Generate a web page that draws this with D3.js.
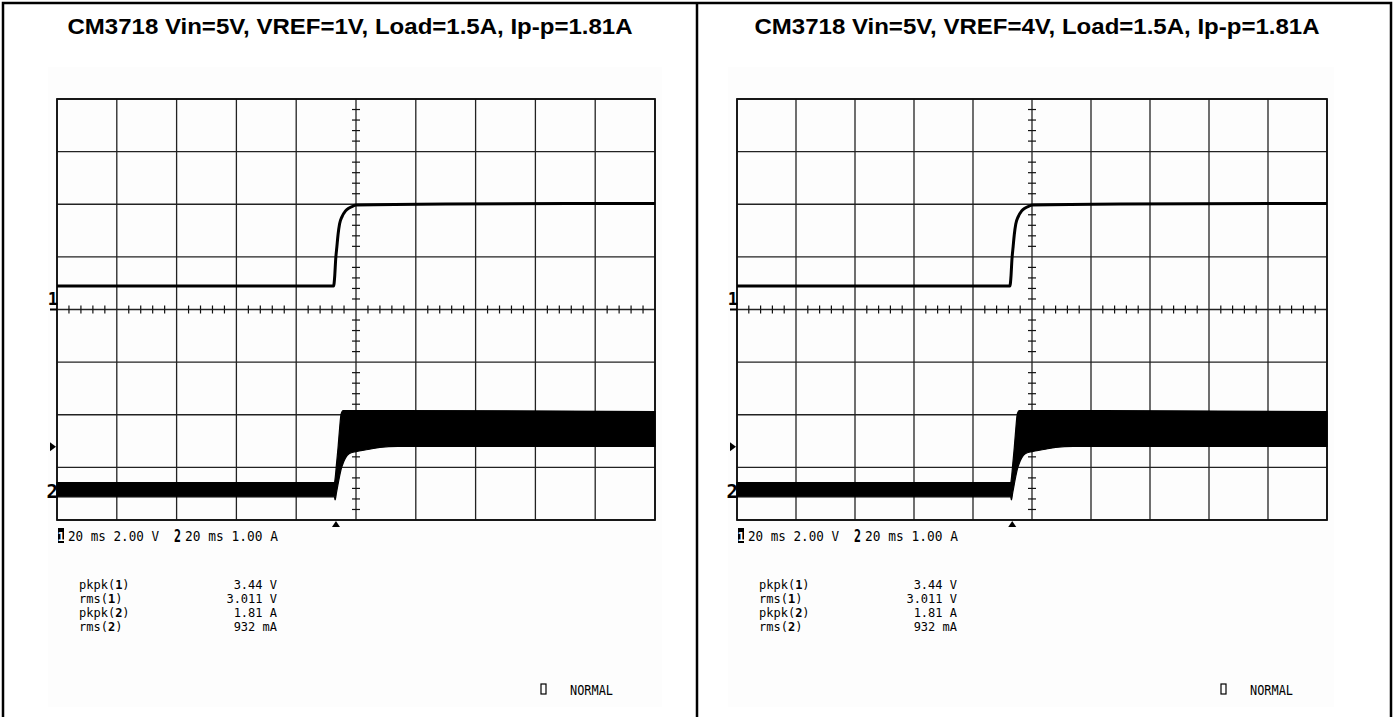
<!DOCTYPE html>
<html><head><meta charset="utf-8">
<script src="https://cdn.jsdelivr.net/npm/d3@7"></script>
<style>body{margin:0;background:#fff}svg{display:block}</style>
</head><body>
<svg id="c" width="1394" height="717"></svg>
<script>
// ---------- data ----------
const titles = ["CM3718 Vin=5V, VREF=1V, Load=1.5A, Ip-p=1.81A",
                "CM3718 Vin=5V, VREF=4V, Load=1.5A, Ip-p=1.81A"];
// time axis: 20 ms/div, 10 divisions
const timeDomain = [-100, 100];
const divDomain = [-4, 4];
const xTickValues = [-100, -80, -60, -40, -20, 0, 20, 40, 60, 80, 100];
const yTickValues = [-4, -3, -2, -1, 0, 1, 2, 3, 4];
// channel 1 (2.00 V/div), ground at centre
const ch1Time  = [-100, -7.5, -7.1, -6.8, -6.4, -6.0, -5.5, -4.7, -3.5, -2.3, -1, 0, 30, 100];
const ch1Volts = [0.89, 0.89, 1.3, 1.9, 2.38, 2.85, 3.25, 3.52, 3.75, 3.86, 3.93, 3.97, 4.01, 4.03];
// channel 2 (1.00 A/div) envelope of the noisy trace
const ch2Time   = [-100, -7.2, -7.0, -6.5, -6.0, -5.5, -5.0, -4.3, -3.5, -2.3, 0, 4, 8, 14, 100];
const ch2Top    = [0.13, 0.13, 0.20, 0.50, 0.80, 1.15, 1.43, 1.50, 1.50, 1.50, 1.50, 1.50, 1.50, 1.50, 1.48];
const ch2Bottom = [-0.14, -0.14, -0.20, -0.05, 0.10, 0.25, 0.38, 0.50, 0.60, 0.68, 0.72, 0.76, 0.80, 0.82, 0.82];
const ch1VoltsPerDiv = 2, ch2AmpsPerDiv = 1;
const ch1GroundDiv = 0, ch2GroundDiv = -3.42;
const scaleLabels = ["20 ms 2.00 V", "20 ms 1.00 A"];
const measureNames = ["pkpk", "rms", "pkpk", "rms"];
const measureChannels = ["1", "1", "2", "2"];
const measureValues = ["3.44 V", "3.011 V", "1.81 A", "932 mA"];
const triggerTime = -6.7;
const modeLabel = "NORMAL";

// ---------- layout ----------
const panels = [
  {px0: 3,   px1: 697,  gx0: 57,  gx1: 655,  titleX: 350},
  {px0: 697, px1: 1391, gx0: 737, gx1: 1327, titleX: 1037}
];
const gy0 = 99, gy1 = 520;
const monoFont = "'DejaVu Sans Mono', monospace";

const svg = d3.select("#c");
svg.append("rect").attr("width", 1394).attr("height", 717).attr("fill", "#fff");

panels.forEach((p, i) => {
  const g = svg.append("g");
  const x = d3.scaleLinear().domain(timeDomain).range([p.gx0, p.gx1]);
  const yd = d3.scaleLinear().domain(divDomain).range([gy1, gy0]);
  const y1 = v => yd(ch1GroundDiv + v / ch1VoltsPerDiv);
  const y2 = a => yd(ch2GroundDiv + a / ch2AmpsPerDiv);
  const xc = x(0), yc = yd(0);

  // faint background
  g.append("rect").attr("x", p.gx0 - 9).attr("y", 67).attr("width", p.gx1 - p.gx0 + 16).attr("height", 640)
    .attr("fill", "#fdfdfd");

  // title
  g.append("text").attr("x", p.titleX).attr("y", 34).attr("text-anchor", "middle")
    .attr("font-family", "'Liberation Sans', Arial, sans-serif").attr("font-weight", "bold")
    .attr("font-size", 22).attr("textLength", 565).attr("lengthAdjust", "spacingAndGlyphs")
    .attr("fill", "#000").text(titles[i]);

  // grid
  g.selectAll(".vl").data(xTickValues).enter().append("line")
    .attr("x1", d => x(d)).attr("x2", d => x(d)).attr("y1", gy0).attr("y2", gy1)
    .attr("stroke", "#222").attr("stroke-width", 1.3);
  g.selectAll(".hl").data(yTickValues).enter().append("line")
    .attr("y1", d => yd(d)).attr("y2", d => yd(d)).attr("x1", p.gx0).attr("x2", p.gx1)
    .attr("stroke", "#222").attr("stroke-width", 1.3);
  // frame
  g.append("rect").attr("x", p.gx0).attr("y", gy0).attr("width", p.gx1 - p.gx0).attr("height", gy1 - gy0)
    .attr("fill", "none").attr("stroke", "#111").attr("stroke-width", 1.8);

  // minor ticks on centre axes
  const hMinor = d3.range(-100, 100.01, 4).filter(t => Math.abs(t % 20) > 0.01);
  g.selectAll(".ht").data(hMinor).enter().append("line")
    .attr("x1", d => x(d)).attr("x2", d => x(d)).attr("y1", yc - 4).attr("y2", yc + 4)
    .attr("stroke", "#111").attr("stroke-width", 1.2);
  const vMinor = d3.range(-4, 4.001, 0.2).filter(t => Math.abs(t - Math.round(t)) > 0.01);
  g.selectAll(".vt").data(vMinor).enter().append("line")
    .attr("y1", d => yd(d)).attr("y2", d => yd(d)).attr("x1", xc - 4).attr("x2", xc + 4)
    .attr("stroke", "#111").attr("stroke-width", 1.2);

  // channel 2 envelope
  const area = d3.area().x((d, k) => x(ch2Time[k])).y0((d, k) => y2(ch2Bottom[k])).y1((d, k) => y2(ch2Top[k]))
    .curve(d3.curveMonotoneX);
  g.append("path").attr("d", area(ch2Time)).attr("fill", "#000").attr("stroke", "#000").attr("stroke-width", 1.2);

  // channel 1 line
  const line = d3.line().x((d, k) => x(ch1Time[k])).y((d, k) => y1(ch1Volts[k])).curve(d3.curveMonotoneX);
  g.append("path").attr("d", line(ch1Time)).attr("fill", "none").attr("stroke", "#000").attr("stroke-width", 3);

  // channel markers at left
  g.append("text").attr("x", p.gx0 + 1).attr("y", yd(ch1GroundDiv) - 5).attr("text-anchor", "end")
    .attr("font-family", monoFont).attr("font-weight", "bold").attr("font-size", 17).text("1");
  g.append("line").attr("x1", p.gx0 - 7).attr("x2", p.gx0).attr("y1", yd(ch1GroundDiv)).attr("y2", yd(ch1GroundDiv))
    .attr("stroke", "#000").attr("stroke-width", 2);
  g.append("text").attr("x", p.gx0 + 1).attr("y", y2(0) + 9).attr("text-anchor", "end")
    .attr("font-family", monoFont).attr("font-weight", "bold").attr("font-size", 19).text("2");
  const ay = y2(0.81);
  g.append("path").attr("d", `M${p.gx0 - 7},${ay - 4.5}L${p.gx0 - 1},${ay}L${p.gx0 - 7},${ay + 4.5}Z`).attr("fill", "#000");
  // trigger marker
  const tx = x(triggerTime);
  g.append("path").attr("d", `M${tx - 4},${gy1 + 7}L${tx},${gy1 + 1}L${tx + 4},${gy1 + 7}Z`).attr("fill", "#000");

  // scale line
  const sx = p.gx0 + 1, sy = 541;
  g.append("rect").attr("x", sx).attr("y", sy - 13).attr("width", 6).attr("height", 15).attr("fill", "#000");
  g.append("text").attr("x", sx + 3).attr("y", sy).attr("text-anchor", "middle").attr("font-family", monoFont)
    .attr("font-size", 12).attr("font-weight", "bold").attr("fill", "#fff").text("1");
  g.append("text").attr("x", sx + 10).attr("y", sy).attr("font-family", monoFont).attr("font-size", 14)
    .attr("textLength", 91).attr("lengthAdjust", "spacingAndGlyphs").text(scaleLabels[0]);
  g.append("text").attr("x", sx + 116).attr("y", sy + 1).attr("font-family", monoFont).attr("font-size", 17)
    .attr("font-weight", "bold").attr("textLength", 7).attr("lengthAdjust", "spacingAndGlyphs").text("2");
  g.append("text").attr("x", sx + 127).attr("y", sy).attr("font-family", monoFont).attr("font-size", 14)
    .attr("textLength", 93).attr("lengthAdjust", "spacingAndGlyphs").text(scaleLabels[1]);

  // measurements
  measureNames.forEach((m, k) => {
    const yy = 589 + k * 14;
    const t = g.append("text").attr("x", p.gx0 + 22).attr("y", yy).attr("font-family", monoFont).attr("font-size", 12);
    t.append("tspan").text(m + "(");
    t.append("tspan").attr("font-weight", "bold").text(measureChannels[k]);
    t.append("tspan").text(")");
    g.append("text").attr("x", p.gx0 + 220).attr("y", yy).attr("text-anchor", "end").attr("font-family", monoFont)
      .attr("font-size", 12).text(measureValues[k]);
  });

  // mode
  g.append("rect").attr("x", p.gx0 + 484).attr("y", 684).attr("width", 5).attr("height", 10)
    .attr("fill", "none").attr("stroke", "#000").attr("stroke-width", 1.2);
  g.append("text").attr("x", p.gx0 + 513).attr("y", 695).attr("font-family", monoFont).attr("font-size", 14)
    .attr("textLength", 43).attr("lengthAdjust", "spacingAndGlyphs").text(modeLabel);
});

// outer table border
svg.append("rect").attr("x", 3).attr("y", 3).attr("width", 1388).attr("height", 730)
  .attr("fill", "none").attr("stroke", "#000").attr("stroke-width", 2.5);
svg.append("line").attr("x1", 697).attr("x2", 697).attr("y1", 3).attr("y2", 717)
  .attr("stroke", "#000").attr("stroke-width", 2.5);
</script>
</body></html>
